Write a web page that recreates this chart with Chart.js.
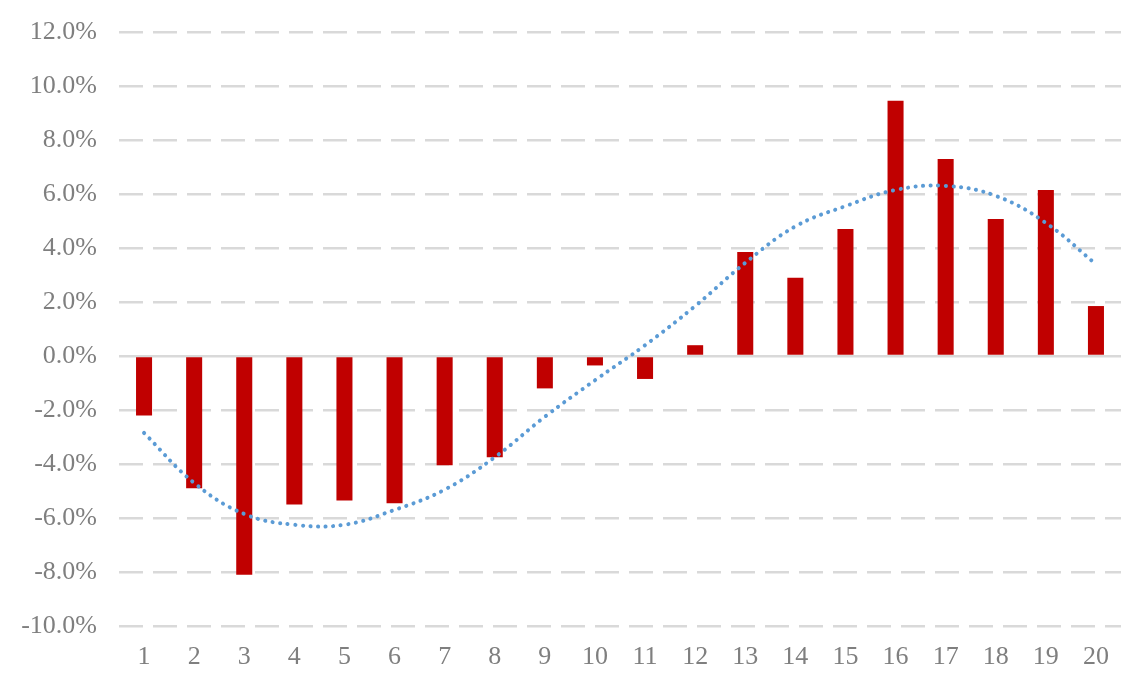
<!DOCTYPE html>
<html>
<head>
<meta charset="utf-8">
<script src="https://cdn.jsdelivr.net/npm/chart.js@4"></script>
<style>
  html, body { margin: 0; padding: 0; background: #fff; }
  #wrap { width: 1140px; height: 687px; }
</style>
</head>
<body>
<div id="wrap"><canvas id="mainChart" width="1140" height="687"></canvas></div>
<script>
const categories = [`1`, `2`, `3`, `4`, `5`, `6`, `7`, `8`, `9`, `10`,
  `11`, `12`, `13`, `14`, `15`, `16`, `17`, `18`, `19`, `20`]

// bar values, in percent
const values = [-2.2, -4.9, -8.1, -5.5, -5.35, -5.45, -4.05, -3.75, -1.2, -0.35,
  -0.85, 0.4, 3.85, 2.9, 4.7, 9.45, 7.3, 5.07, 6.15, 1.85]

// dotted trend line
const trend = [-2.85, -4.7, -5.85, -6.25, -6.25, -5.7, -4.95, -3.75, -2.25, -0.9,
  0.4, 1.85, 3.45, 4.8, 5.55, 6.15, 6.3, 5.93, 4.93, 3.4]

const yTicks = [-10, -8, -6, -4, -2, 0, 2, 4, 6, 8, 10, 12]

const grey = `#7f7f7f`
const gridGrey = `#d9d9d9`
const font = { family: `"Liberation Serif", "DejaVu Serif", serif`, size: 26 }

const chart = document.getElementById(`mainChart`)

new Chart(chart, {
  type: `bar`,
  data: {
    labels: categories,
    datasets: [
      {
        type: `line`,
        label: `Trend`,
        data: trend,
        borderColor: `#5b9bd5`,
        borderWidth: 4,
        borderDash: [0.1, 7.5],
        borderCapStyle: `round`,
        pointRadius: 0,
        tension: 0.4,
        fill: false,
        order: 0,
      },
      {
        label: `Values`,
        data: values,
        backgroundColor: `#c00000`,
        barPercentage: 0.64,
        categoryPercentage: 0.5,
        order: 1,
      },
    ],
  },
  options: {
    responsive: false,
    animation: false,
    layout: { padding: { top: 32, right: 19, bottom: 10, left: 0 } },
    plugins: {
      legend: { display: false },
      tooltip: { enabled: false },
    },
    scales: {
      x: {
        grid: { display: false },
        border: { display: false },
        ticks: { color: grey, font: font, padding: 8, maxRotation: 0 },
        afterFit: (s) => { s.height = 51; s.paddingLeft = 0; s.paddingRight = 0 },
      },
      y: {
        min: -10,
        max: 12,
        afterBuildTicks: (s) => { s.ticks = yTicks.map((v) => ({ value: v })) },
        grid: {
          color: gridGrey,
          lineWidth: 2.5,
          drawTicks: false,
        },
        border: {
          display: false,
          dash: (ctx) => (ctx.tick && ctx.tick.value === 0 ? [] : [24, 10]),
        },
        ticks: {
          color: grey,
          font: font,
          padding: 22,
          callback: (v) => v.toFixed(1) + `%`,
        },
        afterFit: (s) => { s.width = 119; s.paddingTop = 0; s.paddingBottom = 0 },
      },
    },
  },
})
</script>
</body>
</html>
